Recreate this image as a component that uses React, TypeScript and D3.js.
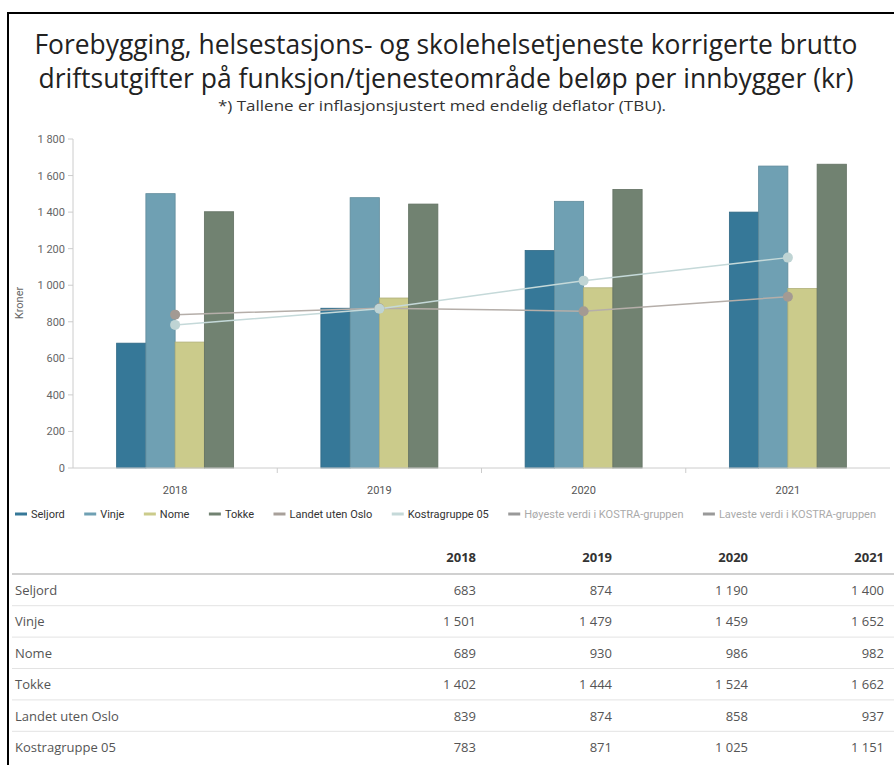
import React from 'react';
import * as d3 from 'd3';

const years = ['2018', '2019', '2020', '2021'];
const barSeries = ['Seljord', 'Vinje', 'Nome', 'Tokke'];
const seljord = [683, 874, 1190, 1400];
const vinje = [1501, 1479, 1459, 1652];
const nome = [689, 930, 986, 982];
const tokke = [1402, 1444, 1524, 1662];
const landetUtenOslo = [839, 874, 858, 937];
const kostragruppe05 = [783, 871, 1025, 1151];
const yTicks = [0, 200, 400, 600, 800, 1000, 1200, 1400, 1600, 1800];
const legendItems = [
  'Seljord', 'Vinje', 'Nome', 'Tokke', 'Landet uten Oslo', 'Kostragruppe 05',
  'Høyeste verdi i KOSTRA-gruppen', 'Laveste verdi i KOSTRA-gruppen',
];
const tableRows = ['Seljord', 'Vinje', 'Nome', 'Tokke', 'Landet uten Oslo', 'Kostragruppe 05'];

const barValues = [seljord, vinje, nome, tokke];
const tableValues = [seljord, vinje, nome, tokke, landetUtenOslo, kostragruppe05];
const barColors = ['#367898', '#6fa0b3', '#cbcb8b', '#718271'];
const legendColors = ['#367898', '#6fa0b3', '#cbcb8b', '#718271', '#a8a09a', '#c5d9d9', '#999999', '#999999'];
const legendText = ['#333', '#333', '#333', '#333', '#333', '#333', '#aaa', '#aaa'];

const fmt = d3.formatLocale({ decimal: ',', thousands: '\u00a0', grouping: [3], currency: ['', ''] }).format(',d');

const chartFont = 'Roboto, "Liberation Sans", Arial, sans-serif';
const tableFont = '"Open Sans", sans-serif';

function measure(text: string, font: string) {
  const c = document.createElement('canvas').getContext('2d')!;
  c.font = font;
  return c.measureText(text).width;
}

export default function App() {
  const x = d3.scaleBand().domain(years).range([73, 890]);
  const y = d3.scaleLinear().domain([0, 1800]).range([468, 139]);
  const groupW = 117;
  const inner = d3.scaleBand().domain(barSeries).range([0, groupW]);
  const cx = (yr: string) => x(yr)! + x.bandwidth() / 2;

  const line = d3.line<number>()
    .x((_, i) => cx(years[i]))
    .y(d => y(d));

  // legend layout: fit the row between 15 and 876
  const legendFont = `11px ${chartFont}`;
  const widths = legendItems.map(t => measure(t, legendFont));
  const symW = 12, symGap = 4;
  const used = widths.reduce((a, b) => a + b, 0) + legendItems.length * (symW + symGap);
  const gap = Math.max(4, (861 - used) / (legendItems.length - 1));
  let lx = 15;
  const legendPos = legendItems.map((t, i) => {
    const p = lx;
    lx += symW + symGap + widths[i] + gap;
    return p;
  });

  const colRight = [476, 612, 748, 884];
  const rowY = (i: number) => 590 + i * 31.4;

  return (
    <div style={{ position: 'absolute', left: 0, top: 0 }}>
      <svg width={894} height={765} style={{ display: 'block', background: '#fff' }}>
        {/* frame */}
        <line x1={7} x2={894} y1={13} y2={13} stroke="#000" strokeWidth={2} />
        <line x1={8} x2={8} y1={12} y2={765} stroke="#000" strokeWidth={2} />

        {/* titles */}
        <text x={446} y={54} textAnchor="middle" fontFamily={tableFont} fontSize={26.5} fill="#222"
          textLength={823} lengthAdjust="spacingAndGlyphs">
          Forebygging, helsestasjons- og skolehelsetjeneste korrigerte brutto
        </text>
        <text x={446} y={88} textAnchor="middle" fontFamily={tableFont} fontSize={26.5} fill="#222"
          textLength={815} lengthAdjust="spacingAndGlyphs">
          driftsutgifter på funksjon/tjenesteområde beløp per innbygger (kr)
        </text>
        <text x={442} y={111} textAnchor="middle" fontFamily={tableFont} fontSize={14.5} fill="#333"
          textLength={448} lengthAdjust="spacingAndGlyphs">
          *) Tallene er inflasjonsjustert med endelig deflator (TBU).
        </text>

        {/* y axis */}
        <line x1={73} x2={73} y1={y(1800)} y2={y(0)} stroke="#ccc" />
        {yTicks.map(t => (
          <g key={t}>
            <line x1={68} x2={73} y1={y(t)} y2={y(t)} stroke="#ccc" />
            <text x={65} y={y(t) + 4} textAnchor="end" fontFamily={chartFont} fontSize={11} fill="#666">{fmt(t)}</text>
          </g>
        ))}
        <text transform="translate(23,303) rotate(-90)" textAnchor="middle" fontFamily={chartFont} fontSize={11} fill="#666">Kroner</text>

        {/* bars */}
        {barValues.map((vals, si) => vals.map((v, i) => {
          const bx = cx(years[i]) - groupW / 2 + inner(barSeries[si])!;
          return (
            <rect key={si + '-' + i} x={bx} y={y(v)} width={inner.bandwidth()} height={y(0) - y(v)}
              fill={barColors[si]} stroke={d3.color(barColors[si])!.darker(0.4).toString()} strokeWidth={0.8} />
          );
        }))}

        {/* x axis */}
        <line x1={73} x2={890} y1={y(0)} y2={y(0)} stroke="#ccc" />
        {years.slice(1).map(yr => (
          <line key={yr} x1={x(yr)} x2={x(yr)} y1={y(0)} y2={y(0) + 5} stroke="#ccc" />
        ))}
        {years.map(yr => (
          <text key={yr} x={cx(yr)} y={494} textAnchor="middle" fontFamily={chartFont} fontSize={11} fill="#555">{yr}</text>
        ))}

        {/* lines */}
        <path d={line(landetUtenOslo)!} fill="none" stroke="#b5aea9" strokeWidth={1.5} />
        <path d={line(kostragruppe05)!} fill="none" stroke="#c5d9d9" strokeWidth={1.5} />
        {landetUtenOslo.map((v, i) => (
          <circle key={'l' + i} cx={cx(years[i])} cy={y(v)} r={5} fill="#a39a93" />
        ))}
        {kostragruppe05.map((v, i) => (
          <circle key={'k' + i} cx={cx(years[i])} cy={y(v)} r={5} fill="#bfd4d4" />
        ))}

        {/* legend */}
        {legendItems.map((t, i) => (
          <g key={t}>
            <line x1={legendPos[i]} x2={legendPos[i] + symW} y1={514} y2={514} stroke={legendColors[i]} strokeWidth={3} />
            <text x={legendPos[i] + symW + symGap} y={518} fontFamily={chartFont} fontSize={11} fill={legendText[i]}>{t}</text>
          </g>
        ))}

        {/* table */}
        {years.map((yr, j) => (
          <text key={yr} x={colRight[j]} y={562} textAnchor="end" fontFamily={tableFont} fontSize={13} fontWeight={700} fill="#333">{yr}</text>
        ))}
        <line x1={12} x2={894} y1={574} y2={574} stroke="#d0d0d0" strokeWidth={2} />
        {tableRows.map((r, i) => (
          <g key={r}>
            <text x={15} y={rowY(i) + 5} fontFamily={tableFont} fontSize={13} fill="#555">{r}</text>
            {tableValues[i].map((v, j) => (
              <text key={j} x={colRight[j]} y={rowY(i) + 5} textAnchor="end" fontFamily={tableFont} fontSize={13} fill="#555">{fmt(v)}</text>
            ))}
            {i < tableRows.length - 1 && (
              <line x1={12} x2={894} y1={rowY(i) + 15.7} y2={rowY(i) + 15.7} stroke="#e3e3e3" strokeWidth={1} />
            )}
          </g>
        ))}
      </svg>
    </div>
  );
}
